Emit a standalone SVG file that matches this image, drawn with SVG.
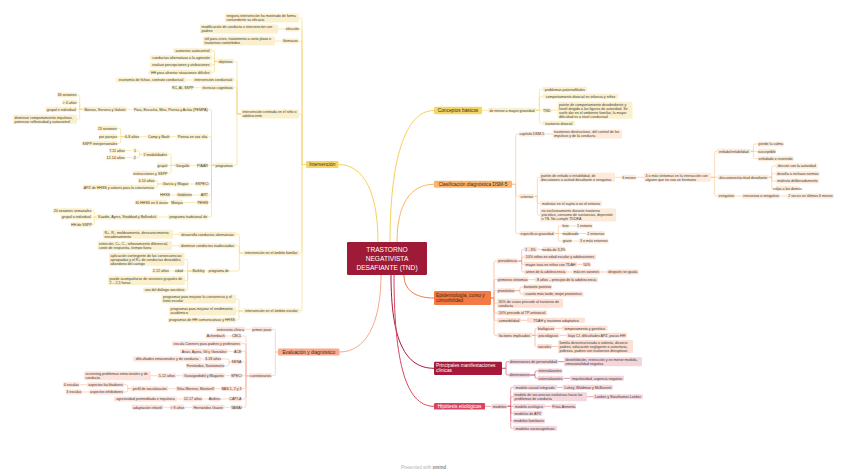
<svg xmlns="http://www.w3.org/2000/svg" width="848" height="476" viewBox="0 0 848 476">
<style>
text{font-family:"Liberation Sans",Arial,sans-serif;font-size:3.6px;fill:#3c3a36}
.s text{text-anchor:middle}
rect{rx:1.2px}
.ny rect{fill:#fbf0cd}
.no rect{fill:#fdead9}
.ne rect{fill:#fde0d3}
.nv rect{fill:#fde3da}
.np rect{fill:#f3d5dc}
.nh rect{fill:#f5d7de}
.mn text{font-size:4.8px;fill:#3a2a10}
.mw text{font-size:4.8px;fill:#ffffff}
path{fill:none;stroke-width:0.6}
.ly{stroke:#f6d67a}.lo{stroke:#f9c28a}.le{stroke:#f7a384}.lv{stroke:#f9baa6}.lp{stroke:#bb4862}.lh{stroke:#e26a80}
.mc path{stroke-width:1}
</style>
<rect width="848" height="476" fill="#ffffff"/>
<g id="connectors">
<g class="mc">
<path d="M378 242C378 195 365 164.5 338.5 164.5" stroke="#f4d25e"/>
<path d="M390 242C390 160 405 110.5 434 110.5" stroke="#f4d25e"/>
<path d="M397 242C397 205 410 184.3 434 184.3" stroke="#f8b56a"/>
<path d="M404 275C404 290 415 298 434 298" stroke="#f47a45"/>
<path d="M391 275C391 340 405 368.3 434 368.3" stroke="#a6193a"/>
<path d="M394 275C394 375 410 406.3 434 406.3" stroke="#d94560"/>
<path d="M381 275C381 325 365 352 339.5 352" stroke="#f8a88c"/>
</g>
<g class="ly">
<path d="M306 164.5H302V19.5Q302 18 300.5 18H299"/>
<path d="M306 164.5H302V30.5Q302 29 300.5 29H299"/>
<path d="M306 164.5H302V42.5Q302 41 300.5 41H299"/>
<path d="M306 164.5H302V115.5Q302 114 300.5 114H299"/>
<path d="M306 164.5H302V251.5Q302 253 300.5 253H299.5"/>
<path d="M306 164.5H302V309.5Q302 311 300.5 311H300"/>
<path d="M285.5 29H278M282 41H275"/>
<path d="M241 114H237V62.8Q237 61.3 235.5 61.3H233.5"/>
<path d="M241 114H237V81.5Q237 80 235.5 80H234"/>
<path d="M241 114H237V89.2Q237 87.7 235.5 87.7H234"/>
<path d="M241 114H237V163.8Q237 165.3 235.5 165.3H233"/>
<path d="M217.5 61.3H214.5V52.2Q214.5 50.7 213 50.7H212"/>
<path d="M217.5 61.3H214.5V59.3Q214.5 57.8 213 57.8H212"/>
<path d="M217.5 61.3H214.5V63.5Q214.5 65 213 65H212"/>
<path d="M217.5 61.3H214.5V70.8Q214.5 72.3 213 72.3H212"/>
<path d="M192.5 80H186M201 87.7H193"/>
<path d="M215 165.3H211.5V110.8Q211.5 109.3 210 109.3H208.5"/>
<path d="M215 165.3H211.5V138.2Q211.5 136.7 210 136.7H208.5"/>
<path d="M215 165.3H208.5"/>
<path d="M215 165.3H211.5V182.5Q211.5 184 210 184H208.5"/>
<path d="M215 165.3H211.5V193.5Q211.5 195 210 195H208.5"/>
<path d="M215 165.3H211.5V200.8Q211.5 202.3 210 202.3H208.5"/>
<path d="M215 165.3H211.5V215.5Q211.5 217 210 217H208.5"/>
<path d="M133 109.3H127"/>
<path d="M83 109.3H79.7V96.5Q79.7 95 78.2 95H77"/>
<path d="M83 109.3H79.7V103.8Q79.7 102.3 78.2 102.3H77"/>
<path d="M83 109.3H77"/>
<path d="M83 109.3H79.7V117.8Q79.7 119.3 78.2 119.3H77"/>
<path d="M176.5 136.7H170M147.5 136.7H139"/>
<path d="M125 136.7H120.7V129.8Q120.7 128.3 119.2 128.3H117"/>
<path d="M125 136.7H117"/>
<path d="M125 136.7H120.7V141.8Q120.7 143.3 119.2 143.3H117"/>
<path d="M196.5 165.3H190"/>
<path d="M175 165.3H171V155.8Q171 154.3 169.5 154.3H167.5"/>
<path d="M175 165.3H167.5"/>
<path d="M175 165.3H171V171.8Q171 173.3 169.5 173.3H167.5"/>
<path d="M143 154.3H139.5V152.2Q139.5 150.7 138 150.7H136.5"/>
<path d="M143 154.3H139.5V156.2Q139.5 157.7 138 157.7H136.5"/>
<path d="M133.5 150.7H125M133 157.7H125"/>
<path d="M195.5 184H189"/>
<path d="M162 184H157.5V182.2Q157.5 180.7 156 180.7H155"/>
<path d="M162 184H157.5V185.8Q157.5 187.3 156 187.3H155"/>
<path d="M200 195H192M177 195H170"/>
<path d="M197 202.3H183M171 202.3H167"/>
<path d="M168 217H158.5"/>
<path d="M96 217H94.3V212.2Q94.3 210.7 92.8 210.7H92"/>
<path d="M96 217H92"/>
<path d="M96 217H94.3V223.2Q94.3 224.7 92.8 224.7H92"/>
<path d="M243 253H239.3V235.8Q239.3 234.3 237.8 234.3H236"/>
<path d="M243 253H239.3V247.2Q239.3 245.7 237.8 245.7H236"/>
<path d="M243 253H239.3V269.5Q239.3 271 237.8 271H228.5"/>
<path d="M179 234.3H173M179 245.7H172M209 271H205"/>
<path d="M192 271H187.7V260.8Q187.7 259.3 186.2 259.3H184.5"/>
<path d="M192 271H183"/>
<path d="M192 271H187.7V279Q187.7 280.5 186.2 280.5H185"/>
<path d="M192 271H187.7V288.5Q187.7 290 186.2 290H186"/>
<path d="M175 271H169.5"/>
<path d="M243 311H239V300.5Q239 299 237.5 299H236"/>
<path d="M243 311H236"/>
<path d="M243 311H239V318.5Q239 320 237.5 320H236"/>
<path d="M482 110.5H488"/>
<path d="M536 110.3H539.3V90.8Q539.3 89.3 540.8 89.3H542.5"/>
<path d="M536 110.3H539.3V97.8Q539.3 96.3 540.8 96.3H542.5"/>
<path d="M536 110.3H542.5M551 110.3H557.5"/>
<path d="M536 110.3H539.3V121.8Q539.3 123.3 540.8 123.3H542.5"/>
</g>
<g class="lo">
<path d="M512 184.3H515.7V135.5Q515.7 134 517.2 134H519"/>
<path d="M512 184.3H515.7V194.8Q515.7 196.3 517.2 196.3H519"/>
<path d="M512 184.3H515.7V232Q515.7 233.5 517.2 233.5H519"/>
<path d="M544.5 134H552.5"/>
<path d="M534.5 196.3H537.3V178.8Q537.3 177.3 538.8 177.3H539.5"/>
<path d="M534.5 196.3H537.3V201.8Q537.3 203.3 538.8 203.3H540"/>
<path d="M534.5 196.3H537.3V213.5Q537.3 215 538.8 215H540"/>
<path d="M615 177.3H622M636 177.3H644"/>
<path d="M711 177.3H714.7V152.8Q714.7 151.3 716.2 151.3H716.5"/>
<path d="M711 177.3H717.5"/>
<path d="M711 177.3H714.7V194.5Q714.7 196 716.2 196H717.5"/>
<path d="M751 151.3H753.3V145.5Q753.3 144 754.8 144H757.5"/>
<path d="M751 151.3H757.5"/>
<path d="M751 151.3H753.3V157.2Q753.3 158.7 754.8 158.7H757.5"/>
<path d="M769 177.3H771.7V167.5Q771.7 166 773.2 166H776"/>
<path d="M769 177.3H771.7V175.2Q771.7 173.7 773.2 173.7H776"/>
<path d="M769 177.3H771.7V179.5Q771.7 181 773.2 181H776"/>
<path d="M769 177.3H771.7V186.8Q771.7 188.3 773.2 188.3H776"/>
<path d="M735 196H742M780 196H787"/>
<path d="M555 233.5H558.3V227.5Q558.3 226 559.8 226H562.5"/>
<path d="M555 233.5H562.5"/>
<path d="M555 233.5H558.3V239.5Q558.3 241 559.8 241H562.5"/>
<path d="M568 226H576.5M578.5 233.5H586.5M572 241H579"/>
</g>
<g class="le">
<path d="M491 298H494V262.5Q494 261 495.5 261H497"/>
<path d="M491 298H494V281.2Q494 279.7 495.5 279.7H497"/>
<path d="M491 298H494V292.2Q494 290.7 495.5 290.7H497"/>
<path d="M491 298H494V301.8Q494 303.3 495.5 303.3H497"/>
<path d="M491 298H494V311.5Q494 313 495.5 313H497"/>
<path d="M491 298H494V318.8Q494 320.3 495.5 320.3H497"/>
<path d="M491 298H494V333.8Q494 335.3 495.5 335.3H497"/>
<path d="M518 261H521.7V250.8Q521.7 249.3 523.2 249.3H524"/>
<path d="M518 261H521.7V258.5Q521.7 257 523.2 257H524"/>
<path d="M518 261H521.7V262.8Q521.7 264.3 523.2 264.3H524"/>
<path d="M518 261H521.7V270.5Q521.7 272 523.2 272H524"/>
<path d="M537 249.3H542.5M577 264.3H583M567 272H572.5M600 272H607M528.5 279.7H535"/>
<path d="M515 290.7H520V288.5Q520 287 521.5 287H523"/>
<path d="M515 290.7H520V292.5Q520 294 521.5 294H523"/>
<path d="M521 320.3H527"/>
<path d="M532 335.3H535V329.8Q535 328.3 536.5 328.3H537"/>
<path d="M532 335.3H537"/>
<path d="M532 335.3H535V345Q535 346.5 536.5 346.5H537"/>
<path d="M555 328.3H562M559.5 335.3H566.5M552 346.5H558"/>
</g>
<g class="lv">
<path d="M278 352H275.3V330.8Q275.3 329.3 273.8 329.3H272"/>
<path d="M278 352H275.3V374.2Q275.3 375.7 273.8 375.7H272"/>
<path d="M251.5 329.3H245"/>
<path d="M249 375.7H246V337.5Q246 336 244.5 336H241.5"/>
<path d="M249 375.7H246V345.2Q246 343.7 244.5 343.7H241.5"/>
<path d="M249 375.7H246V352.8Q246 351.3 244.5 351.3H241.5"/>
<path d="M249 375.7H246V363.5Q246 362 244.5 362H241.5"/>
<path d="M249 375.7H241.5"/>
<path d="M249 375.7H246V387.2Q246 388.7 244.5 388.7H241.5"/>
<path d="M249 375.7H246V397.5Q246 399 244.5 399H241.5"/>
<path d="M249 375.7H246V405.8Q246 407.3 244.5 407.3H241.5"/>
<path d="M232 336H226M234 351.3H228"/>
<path d="M231.5 362H229V360.5Q229 359 227.5 359H221"/>
<path d="M231.5 362H229V364.2Q229 365.7 227.5 365.7H224"/>
<path d="M205 359H201"/>
<path d="M231 375.7H225M182.5 375.7H176M157.5 375.7H151"/>
<path d="M221.5 388.7H215M175.5 388.7H168.5"/>
<path d="M131 388.7H127.7V386.2Q127.7 384.7 126.2 384.7H124"/>
<path d="M131 388.7H127.7V390.5Q127.7 392 126.2 392H124"/>
<path d="M87 384.7H79.5M89 392H82"/>
<path d="M229 399H220M209 399H202.5M183 399H177"/>
<path d="M231 407.3H224.5M192 407.3H184.5M170 407.3H163.5"/>
</g>
<g class="lp">
<path d="M502 368.3H506V363.2Q506 361.7 507.5 361.7H509"/>
<path d="M502 368.3H506V373.5Q506 375 507.5 375H509"/>
<path d="M558 361.7H564"/>
<path d="M530 375H535V372.5Q535 371 536.5 371H537.5"/>
<path d="M530 375H535V376.8Q535 378.3 536.5 378.3H537.5"/>
<path d="M563.5 378.3H570"/>
</g>
<g class="lh">
<path d="M485 406.3H491.5"/>
<path d="M507.5 406.3H510.7V388.8Q510.7 387.3 512.2 387.3H513"/>
<path d="M507.5 406.3H510.7V398.2Q510.7 396.7 512.2 396.7H513"/>
<path d="M507.5 406.3H513"/>
<path d="M507.5 406.3H510.7V411.8Q510.7 413.3 512.2 413.3H513"/>
<path d="M507.5 406.3H510.7V419.5Q510.7 421 512.2 421H513"/>
<path d="M507.5 406.3H510.7V426.8Q510.7 428.3 512.2 428.3H513"/>
<path d="M557 387.3H562.5M587 396.7H593M545 406.3H551.5"/>
</g>
</g>

<g id="central"><rect x="347" y="242" width="80" height="33" rx="2" fill="#9e1a36"/>
<text x="387" y="251.5" text-anchor="middle" style="font-size:6.6px;fill:#fff">TRASTORNO</text>
<text x="387" y="260.5" text-anchor="middle" style="font-size:6.6px;fill:#fff">NEGATIVISTA</text>
<text x="387" y="269.5" text-anchor="middle" style="font-size:6.6px;fill:#fff">DESAFIANTE (TND)</text></g>

<g id="m-intervencion" class="mn s"><rect x="306" y="161" width="32.5" height="7" fill="#f5d565"/><text x="322.3" y="166.2">Intervención</text></g>
<g id="m-conceptos" class="mn s"><rect x="434" y="106.8" width="48" height="7.4" fill="#f5d565"/><text x="458" y="112.2">Conceptos básicos</text></g>
<g id="m-clasificacion" class="mn s"><rect x="434" y="180.8" width="78" height="7" fill="#f9b56d"/><text x="473" y="186">Clasificación diagnóstica DSM-5</text></g>
<g id="m-epidemiologia" class="mn"><rect x="434" y="291" width="57" height="14" fill="#f47a45"/><text x="436" y="297.4">Epidemiología, curso y<tspan x="436" y="302.4">comorbilidad</tspan></text></g>
<g id="m-evaluacion" class="mn s"><rect x="278" y="348.5" width="61.5" height="7" fill="#f9a98d"/><text x="308.8" y="353.7">Evaluación y diagnóstico</text></g>
<g id="m-principales" class="mw"><rect x="434" y="361.7" width="68" height="13.3" fill="#a6193a"/><text x="436" y="367">Principales manifestaciones<tspan x="436" y="372.4">clínicas</tspan></text></g>
<g id="m-hipotesis" class="mw s"><rect x="434" y="403" width="51" height="6.6" fill="#d94560"/><text x="459.5" y="408">Hipótesis etiológicas</text></g>

<g id="n-ninguna" class="ny"><rect x="225" y="13.5" width="74" height="9"/><text x="226.5" y="17.3">ninguna intervención ha mostrado de forma<tspan x="226.5" y="21.3">contundente su eficacia</tspan></text></g>
<g id="n-eleccion" class="ny s"><rect x="285.5" y="26.5" width="13.5" height="5"/><text x="292.3" y="30.3">elección</text></g>
<g id="n-modif" class="ny"><rect x="200" y="24.5" width="78" height="9"/><text x="201.5" y="28.3">modificación de conducta e intervención con<tspan x="201.5" y="32.3">padres</tspan></text></g>
<g id="n-farmacos" class="ny s"><rect x="282" y="38.5" width="17" height="5"/><text x="290.5" y="42.3">fármacos</text></g>
<g id="n-util" class="ny"><rect x="203" y="36.5" width="72" height="9"/><text x="204.5" y="40.3">útil para crisis, tratamiento a corto plazo o<tspan x="204.5" y="44.3">trastornos comórbidos</tspan></text></g>
<g id="n-centrada" class="ny"><rect x="241" y="109.5" width="58" height="9"/><text x="242.5" y="113.3">intervención centrada en el niño o<tspan x="242.5" y="117.3">adolescente</tspan></text></g>
<g id="n-objetivos" class="ny s"><rect x="217.5" y="58.8" width="16" height="5"/><text x="225.5" y="62.6">objetivos</text></g>
<g id="n-autocontrol" class="ny s"><rect x="173" y="48.2" width="39" height="5"/><text x="192.5" y="52">aumentar autocontrol</text></g>
<g id="n-alternativas" class="ny s"><rect x="150" y="55.3" width="62" height="5"/><text x="181" y="59.1">conductas alternativas a la agresión</text></g>
<g id="n-percepciones" class="ny s"><rect x="150" y="62.5" width="62" height="5"/><text x="181" y="66.3">evaluar percepciones y atribuciones</text></g>
<g id="n-afrontar" class="ny s"><rect x="148.5" y="69.8" width="63.5" height="5"/><text x="180.3" y="73.6">HH para afrontar situaciones difíciles</text></g>
<g id="n-intconductual" class="ny s"><rect x="192.5" y="77.5" width="41.5" height="5"/><text x="213.3" y="81.3">intervención conductual</text></g>
<g id="n-economia" class="ny s"><rect x="116" y="77.5" width="70" height="5"/><text x="151" y="81.3">economía de fichas, contrato conductual</text></g>
<g id="n-tecnicas" class="ny s"><rect x="201" y="85.2" width="33" height="5"/><text x="217.5" y="89">técnicas cognitivas</text></g>
<g id="n-rc" class="ny s"><rect x="172.5" y="85.2" width="20.5" height="5"/><text x="182.8" y="89">RC, AI, SSPP</text></g>
<g id="n-programas" class="ny s"><rect x="215" y="162.8" width="18" height="5"/><text x="224" y="166.6">programas</text></g>
<g id="n-pempa" class="ny s"><rect x="133" y="106.8" width="75.5" height="5"/><text x="170.8" y="110.6">Para, Escucha, Mira, Piensa y Actúa (PEMPA)</text></g>
<g id="n-bornas" class="ny s"><rect x="83" y="106.8" width="44" height="5"/><text x="105" y="110.6">Bornas, Servera y Galván</text></g>
<g id="n-36ses" class="ny s"><rect x="57" y="92.5" width="20" height="5"/><text x="67" y="96.3">36 sesiones</text></g>
<g id="n-4anos" class="ny s"><rect x="62" y="99.8" width="15" height="5"/><text x="69.5" y="103.6">&gt; 4 años</text></g>
<g id="n-grupalind" class="ny s"><rect x="45.5" y="106.8" width="31.5" height="5"/><text x="61.3" y="110.6">grupal e individual</text></g>
<g id="n-disminuir" class="ny"><rect x="13" y="114.8" width="64" height="9"/><text x="14.5" y="118.6">disminuir comportamiento impulsivo,<tspan x="14.5" y="122.6">potenciar reflexividad y autocontrol</tspan></text></g>
<g id="n-piensa" class="ny s"><rect x="176.5" y="134.2" width="32" height="5"/><text x="192.5" y="138">Piensa en voz alta</text></g>
<g id="n-camp" class="ny s"><rect x="147.5" y="134.2" width="22.5" height="5"/><text x="158.8" y="138">Camp y Bash</text></g>
<g id="n-68" class="ny s"><rect x="125" y="134.2" width="14" height="5"/><text x="132" y="138">6-8 años</text></g>
<g id="n-23ses" class="ny s"><rect x="97.5" y="125.8" width="19.5" height="5"/><text x="107.3" y="129.6">23 sesiones</text></g>
<g id="n-parejas" class="ny s"><rect x="99" y="134.2" width="18" height="5"/><text x="108" y="138">por parejas</text></g>
<g id="n-sspp" class="ny s"><rect x="82.5" y="140.8" width="34.5" height="5"/><text x="99.8" y="144.6">SSPP interpersonales</text></g>
<g id="n-piaar" class="ny s"><rect x="196.5" y="162.8" width="12" height="5"/><text x="202.5" y="166.6">PIAAR</text></g>
<g id="n-gargallo" class="ny s"><rect x="175" y="162.8" width="15" height="5"/><text x="182.5" y="166.6">Gargallo</text></g>
<g id="n-2mod" class="ny s"><rect x="143" y="151.8" width="24.5" height="5"/><text x="155.3" y="155.6">2 modalidades</text></g>
<g id="n-1" class="ny s"><rect x="133.5" y="148.2" width="3" height="5"/><text x="135" y="152">1</text></g>
<g id="n-711" class="ny s"><rect x="109" y="148.2" width="16" height="5"/><text x="117" y="152">7-11 años</text></g>
<g id="n-2" class="ny s"><rect x="133" y="155.2" width="3.5" height="5"/><text x="134.8" y="159">2</text></g>
<g id="n-1214" class="ny s"><rect x="106" y="155.2" width="19" height="5"/><text x="115.5" y="159">12-14 años</text></g>
<g id="n-grupal" class="ny s"><rect x="157" y="162.8" width="10.5" height="5"/><text x="162.3" y="166.6">grupal</text></g>
<g id="n-instr" class="ny s"><rect x="133" y="170.8" width="34.5" height="5"/><text x="150.3" y="174.6">instrucciones y SSPP</text></g>
<g id="n-especi" class="ny s"><rect x="195.5" y="181.5" width="13" height="5"/><text x="202" y="185.3">ESPECI</text></g>
<g id="n-garcia" class="ny s"><rect x="162" y="181.5" width="27" height="5"/><text x="175.5" y="185.3">García y Magaz</text></g>
<g id="n-410" class="ny s"><rect x="138" y="178.2" width="17" height="5"/><text x="146.5" y="182">4-10 años</text></g>
<g id="n-apz" class="ny s"><rect x="82.5" y="184.8" width="72.5" height="5"/><text x="118.8" y="188.6">APZ de HHSS y valores para la convivencia</text></g>
<g id="n-art" class="ny s"><rect x="200" y="192.5" width="8.5" height="5"/><text x="204.3" y="196.3">ART</text></g>
<g id="n-goldstein" class="ny s"><rect x="177" y="192.5" width="15" height="5"/><text x="184.5" y="196.3">Goldstein</text></g>
<g id="n-hhss" class="ny s"><rect x="160" y="192.5" width="10" height="5"/><text x="165" y="196.3">HHSS</text></g>
<g id="n-pehis" class="ny s"><rect x="197" y="199.8" width="11.5" height="5"/><text x="202.8" y="203.6">PEHIS</text></g>
<g id="n-monjas" class="ny s"><rect x="171" y="199.8" width="12" height="5"/><text x="177" y="203.6">Monjas</text></g>
<g id="n-30hhss" class="ny s"><rect x="136" y="199.8" width="31" height="5"/><text x="151.5" y="203.6">30 HHSS en 6 áreas</text></g>
<g id="n-progtrad" class="ny s"><rect x="168" y="214.5" width="40.5" height="5"/><text x="188.3" y="218.3">programa tradicional de</text></g>
<g id="n-kazdin" class="ny s"><rect x="96" y="214.5" width="62.5" height="5"/><text x="127.3" y="218.3">Kazdin, Ayers, Stoddard y Bollerdick</text></g>
<g id="n-20ses" class="ny s"><rect x="53" y="208.2" width="39" height="5"/><text x="72.5" y="212">20 sesiones semanales</text></g>
<g id="n-grupaloind" class="ny s"><rect x="60.5" y="214.5" width="31.5" height="5"/><text x="76.3" y="218.3">grupal o individual</text></g>
<g id="n-hhdesspp" class="ny s"><rect x="71" y="222.2" width="21" height="5"/><text x="81.5" y="226">HH de SSPP</text></g>
<g id="n-familiar" class="ny s"><rect x="243" y="250.5" width="56.5" height="5"/><text x="271.3" y="254.3">intervención en el ámbito familiar</text></g>
<g id="n-desarrollo" class="ny s"><rect x="179" y="231.8" width="57" height="5"/><text x="207.5" y="235.6">desarrollo conductas alternativas</text></g>
<g id="n-rmas" class="ny"><rect x="103" y="229.8" width="70" height="9"/><text x="104.5" y="233.6">R+, R-, moldeamiento, desvanecimiento,<tspan x="104.5" y="237.6">encadenamiento</tspan></text></g>
<g id="n-disminuirci" class="ny s"><rect x="179" y="243.2" width="57" height="5"/><text x="207.5" y="247">disminuir conductas inadecuadas</text></g>
<g id="n-extincion" class="ny"><rect x="97.5" y="241.2" width="74.5" height="9"/><text x="99" y="245">extinción, C+, C-, reforzamiento diferencial,<tspan x="99" y="249">coste de respuesta, tiempo fuera</tspan></text></g>
<g id="n-programade" class="ny s"><rect x="209" y="268.5" width="19.5" height="5"/><text x="218.8" y="272.3">programa de</text></g>
<g id="n-barkley" class="ny s"><rect x="192" y="268.5" width="13" height="5"/><text x="198.5" y="272.3">Barkley</text></g>
<g id="n-aplicacion" class="ny"><rect x="109" y="252.8" width="75.5" height="13"/><text x="110.5" y="256.6">aplicación contingente de las consecuencias<tspan x="110.5" y="260.6">apropiadas y el R+ de conductas deseables,</tspan><tspan x="110.5" y="264.6">abandono del castigo</tspan></text></g>
<g id="n-edad" class="ny s"><rect x="175" y="268.5" width="8" height="5"/><text x="179" y="272.3">edad</text></g>
<g id="n-212" class="ny s"><rect x="152" y="268.5" width="17.5" height="5"/><text x="160.8" y="272.3">2-12 años</text></g>
<g id="n-puede" class="ny"><rect x="108" y="276" width="77" height="9"/><text x="109.5" y="279.8">puede acompañarse de sesiones grupales de<tspan x="109.5" y="283.8">2 – 2,5 horas</tspan></text></g>
<g id="n-socratico" class="ny s"><rect x="143" y="287.5" width="43" height="5"/><text x="164.5" y="291.3">uso del diálogo socrático</text></g>
<g id="n-escolar" class="ny s"><rect x="243" y="308.5" width="57" height="5"/><text x="271.5" y="312.3">intervención en el ámbito escolar</text></g>
<g id="n-convivencia" class="ny"><rect x="161.5" y="294.5" width="74.5" height="9"/><text x="163" y="298.3">programas para mejorar la convivencia y el<tspan x="163" y="302.3">éxito escolar</tspan></text></g>
<g id="n-rendimiento" class="ny"><rect x="169" y="306.5" width="67" height="9"/><text x="170.5" y="310.3">programas para mejorar el rendimiento<tspan x="170.5" y="314.3">académico</tspan></text></g>
<g id="n-hhcom" class="ny s"><rect x="168" y="317.5" width="68" height="5"/><text x="202" y="321.3">programas de HH comunicativas y HHSS</text></g>

<g id="e-primer" class="nv s"><rect x="251.5" y="326.8" width="20.5" height="5"/><text x="261.8" y="330.6">primer paso</text></g>
<g id="e-entrevista" class="nv s"><rect x="216" y="326.8" width="29" height="5"/><text x="230.5" y="330.6">entrevista clínica</text></g>
<g id="e-cuestionarios" class="nv s"><rect x="249" y="373.2" width="23" height="5"/><text x="260.5" y="377">cuestionarios</text></g>
<g id="e-cbcl" class="nv s"><rect x="232" y="333.5" width="9.5" height="5"/><text x="236.8" y="337.3">CBCL</text></g>
<g id="e-achenbach" class="nv s"><rect x="205.5" y="333.5" width="20.5" height="5"/><text x="215.8" y="337.3">Achenbach</text></g>
<g id="e-conners" class="nv s"><rect x="172" y="341.2" width="69.5" height="5"/><text x="206.8" y="345">escala Conners para padres y profesores</text></g>
<g id="e-ace" class="nv s"><rect x="234" y="348.8" width="7.5" height="5"/><text x="237.8" y="352.6">ACE</text></g>
<g id="e-arias" class="nv s"><rect x="180" y="348.8" width="48" height="5"/><text x="204" y="352.6">Arias, Ayora, Gil y González</text></g>
<g id="e-sena" class="nv s"><rect x="231.5" y="359.5" width="10" height="5"/><text x="236.5" y="363.3">SENA</text></g>
<g id="e-318" class="nv s"><rect x="205" y="356.5" width="16" height="5"/><text x="213" y="360.3">3-18 años</text></g>
<g id="e-dificultades" class="nv s"><rect x="133" y="356.5" width="68" height="5"/><text x="167" y="360.3">dificultades emocionales y de conducta</text></g>
<g id="e-fernandez" class="nv s"><rect x="186.5" y="363.2" width="37.5" height="5"/><text x="205.3" y="367">Fernández, Santamaría</text></g>
<g id="e-speci" class="nv s"><rect x="231" y="373.2" width="10.5" height="5"/><text x="236.3" y="377">SPECI</text></g>
<g id="e-garaigordobil" class="nv s"><rect x="182.5" y="373.2" width="42.5" height="5"/><text x="203.8" y="377">Garaigordobil y Maganto</text></g>
<g id="e-512" class="nv s"><rect x="157.5" y="373.2" width="18.5" height="5"/><text x="166.8" y="377">5-12 años</text></g>
<g id="e-screening" class="nv"><rect x="84" y="371.2" width="67" height="9"/><text x="85.5" y="375">screening problemas emocionales y de<tspan x="85.5" y="379">conducta</tspan></text></g>
<g id="e-bas" class="nv s"><rect x="221.5" y="386.2" width="20" height="5"/><text x="231.5" y="390">BAS-1, 2 y 3</text></g>
<g id="e-silva" class="nv s"><rect x="175.5" y="386.2" width="39.5" height="5"/><text x="195.3" y="390">Silva Moreno, Martorell</text></g>
<g id="e-perfil" class="nv s"><rect x="131" y="386.2" width="37.5" height="5"/><text x="149.8" y="390">perfil de socialización</text></g>
<g id="e-facilitadores" class="nv s"><rect x="87" y="382.2" width="37" height="5"/><text x="105.5" y="386">aspectos facilitadores</text></g>
<g id="e-4esc" class="nv s"><rect x="63" y="382.2" width="16.5" height="5"/><text x="71.3" y="386">4 escalas</text></g>
<g id="e-inhibidores" class="nv s"><rect x="89" y="389.5" width="35" height="5"/><text x="106.5" y="393.3">aspectos inhibidores</text></g>
<g id="e-3esc" class="nv s"><rect x="65.5" y="389.5" width="16.5" height="5"/><text x="73.8" y="393.3">3 escalas</text></g>
<g id="e-capi" class="nv s"><rect x="229" y="396.5" width="12.5" height="5"/><text x="235.3" y="400.3">CAPI-A</text></g>
<g id="e-andreu" class="nv s"><rect x="209" y="396.5" width="11" height="5"/><text x="214.5" y="400.3">Andreu</text></g>
<g id="e-1217" class="nv s"><rect x="183" y="396.5" width="19.5" height="5"/><text x="192.8" y="400.3">12-17 años</text></g>
<g id="e-agresividad" class="nv s"><rect x="114" y="396.5" width="63" height="5"/><text x="145.5" y="400.3">agresividad premeditada e impulsiva</text></g>
<g id="e-tamai" class="nv s"><rect x="231" y="404.8" width="10.5" height="5"/><text x="236.3" y="408.6">TAMAI</text></g>
<g id="e-hernandez" class="nv s"><rect x="192" y="404.8" width="32.5" height="5"/><text x="208.3" y="408.6">Hernández-Guanir</text></g>
<g id="e-8anos" class="nv s"><rect x="170" y="404.8" width="14.5" height="5"/><text x="177.3" y="408.6">&gt; 8 años</text></g>
<g id="e-adaptacion" class="nv s"><rect x="131.5" y="404.8" width="32" height="5"/><text x="147.5" y="408.6">adaptación infantil</text></g>

<g id="c-menor" class="ny s"><rect x="488" y="107.8" width="48" height="5"/><text x="512" y="111.6">de menor a mayor gravedad</text></g>
<g id="c-paterno" class="ny s"><rect x="542.5" y="86.8" width="44.5" height="5"/><text x="564.8" y="90.6">problemas paternofiliales</text></g>
<g id="c-disocial" class="ny s"><rect x="542.5" y="93.8" width="76" height="5"/><text x="580.5" y="97.6">comportamiento disocial en infancia y niñez</text></g>
<g id="c-tnd" class="ny s"><rect x="542.5" y="107.8" width="8.5" height="5"/><text x="546.8" y="111.6">TND</text></g>
<g id="c-patron" class="ny"><rect x="557.5" y="101.8" width="75" height="17"/><text x="559" y="105.6">patrón de comportamiento desobediente y<tspan x="559" y="109.6">hostil dirigido a las figuras de autoridad. Se</tspan><tspan x="559" y="113.6">suele dar en el ambiente familiar, la mayor</tspan><tspan x="559" y="117.6">dificultad es a nivel conductual</tspan></text></g>
<g id="c-trastdisocial" class="ny s"><rect x="542.5" y="120.8" width="32.5" height="5"/><text x="558.8" y="124.6">trastorno disocial</text></g>

<g id="d-capitulo" class="no s"><rect x="519" y="131.5" width="25.5" height="5"/><text x="531.8" y="135.3">capítulo DSM-5</text></g>
<g id="d-destructivos" class="no"><rect x="552.5" y="129.5" width="69.5" height="9"/><text x="554" y="133.3">trastornos destructivos, del control de los<tspan x="554" y="137.3">impulsos y de la conducta</tspan></text></g>
<g id="d-criterios" class="no s"><rect x="519" y="193.8" width="15.5" height="5"/><text x="526.8" y="197.6">criterios</text></g>
<g id="d-patron" class="no"><rect x="539.5" y="172.8" width="75.5" height="9"/><text x="541" y="176.6">patrón de enfado o irritabilidad, de<tspan x="541" y="180.6">discusiones o actitud desafiante o vengativa</tspan></text></g>
<g id="d-6meses" class="no s"><rect x="622" y="174.8" width="14" height="5"/><text x="629" y="178.6">6 meses</text></g>
<g id="d-4omas" class="no"><rect x="644" y="172.8" width="67" height="9"/><text x="645.5" y="176.6">4 o más síntomas en la interacción con<tspan x="645.5" y="180.6">alguien que no sea un hermano</tspan></text></g>
<g id="d-enfado" class="no s"><rect x="716.5" y="148.8" width="34.5" height="5"/><text x="733.8" y="152.6">enfado/irritabilidad</text></g>
<g id="d-pierde" class="no s"><rect x="757.5" y="141.5" width="26.5" height="5"/><text x="770.8" y="145.3">pierde la calma</text></g>
<g id="d-susceptible" class="no s"><rect x="757.5" y="148.8" width="18.5" height="5"/><text x="766.8" y="152.6">susceptible</text></g>
<g id="d-enfadado" class="no s"><rect x="757.5" y="156.2" width="36" height="5"/><text x="775.5" y="160">enfadado o resentido</text></g>
<g id="d-discusiones" class="no s"><rect x="717.5" y="174.8" width="51.5" height="5"/><text x="743.3" y="178.6">discusiones/actitud desafiante</text></g>
<g id="d-discute" class="no s"><rect x="776" y="163.5" width="41.5" height="5"/><text x="796.8" y="167.3">discute con la autoridad</text></g>
<g id="d-desafia" class="no s"><rect x="776" y="171.2" width="43.5" height="5"/><text x="797.8" y="175">desafía o rechaza normas</text></g>
<g id="d-molesta" class="no s"><rect x="776" y="178.5" width="43" height="5"/><text x="797.5" y="182.3">molesta deliberadamente</text></g>
<g id="d-culpa" class="no s"><rect x="776" y="185.8" width="22.5" height="5"/><text x="787.3" y="189.6">culpa a los demás</text></g>
<g id="d-vengativo" class="no s"><rect x="717.5" y="193.5" width="17.5" height="5"/><text x="726.3" y="197.3">vengativo</text></g>
<g id="d-rencoroso" class="no s"><rect x="742" y="193.5" width="38" height="5"/><text x="761" y="197.3">rencoroso o vengativo</text></g>
<g id="d-2veces" class="no s"><rect x="787" y="193.5" width="47" height="5"/><text x="810.5" y="197.3">2 veces en últimos 6 meses</text></g>
<g id="d-malestar" class="no s"><rect x="540" y="200.8" width="62" height="5"/><text x="571" y="204.6">malestar en el sujeto o en el entorno</text></g>
<g id="d-noexcl" class="no"><rect x="540" y="208.5" width="76" height="13"/><text x="541.5" y="212.3">no exclusivamente durante trastorno<tspan x="541.5" y="216.3">psicótico, consumo de sustancias, depresión</tspan><tspan x="541.5" y="220.3">o TB. No cumple TDDEA</tspan></text></g>
<g id="d-especificar" class="no s"><rect x="519" y="231" width="36" height="5"/><text x="537" y="234.8">especificar gravedad</text></g>
<g id="d-leve" class="no s"><rect x="562.5" y="223.5" width="6" height="5"/><text x="565.5" y="227.3">leve</text></g>
<g id="d-1ent" class="no s"><rect x="576.5" y="223.5" width="16" height="5"/><text x="584.5" y="227.3">1 entorno</text></g>
<g id="d-moderado" class="no s"><rect x="562.5" y="231" width="16" height="5"/><text x="570.5" y="234.8">moderado</text></g>
<g id="d-2ent" class="no s"><rect x="586.5" y="231" width="18.5" height="5"/><text x="595.8" y="234.8">2 entornos</text></g>
<g id="d-grave" class="no s"><rect x="562.5" y="238.5" width="9.5" height="5"/><text x="567.3" y="242.3">grave</text></g>
<g id="d-3ent" class="no s"><rect x="579" y="238.5" width="29.5" height="5"/><text x="593.8" y="242.3">3 o más entornos</text></g>

<g id="p-prevalencia" class="ne s"><rect x="497" y="258.5" width="21" height="5"/><text x="507.5" y="262.3">prevalencia</text></g>
<g id="p-13" class="ne s"><rect x="524" y="246.8" width="13" height="5"/><text x="530.5" y="250.6">1 - 3%</text></g>
<g id="p-media" class="ne s"><rect x="542.5" y="246.8" width="22.5" height="5"/><text x="553.8" y="250.6">media de 3,3%</text></g>
<g id="p-10ninos" class="ne s"><rect x="524" y="254.5" width="72" height="5"/><text x="560" y="258.3">10% niños en edad escolar y adolescentes</text></g>
<g id="p-mayor" class="ne s"><rect x="524" y="261.8" width="53" height="5"/><text x="550.5" y="265.6">mayor tasa en niños con TDAH</text></g>
<g id="p-50" class="ne s"><rect x="583" y="261.8" width="7.5" height="5"/><text x="586.8" y="265.6">50%</text></g>
<g id="p-antes" class="ne s"><rect x="524" y="269.5" width="43" height="5"/><text x="545.5" y="273.3">antes de la adolescencia</text></g>
<g id="p-varones" class="ne s"><rect x="572.5" y="269.5" width="27.5" height="5"/><text x="586.3" y="273.3">más en varones</text></g>
<g id="p-iguala" class="ne s"><rect x="607" y="269.5" width="31.5" height="5"/><text x="622.8" y="273.3">después se iguala</text></g>
<g id="p-primeros" class="ne s"><rect x="497" y="277.2" width="31.5" height="5"/><text x="512.8" y="281">primeros síntomas</text></g>
<g id="p-8anos" class="ne s"><rect x="535" y="277.2" width="63" height="5"/><text x="566.5" y="281">8 años – principio de la adolescencia</text></g>
<g id="p-pronostico" class="ne s"><rect x="497" y="288.2" width="18" height="5"/><text x="506" y="292">pronóstico</text></g>
<g id="p-bastante" class="ne s"><rect x="523" y="284.5" width="29" height="5"/><text x="537.5" y="288.3">bastante positivo</text></g>
<g id="p-cuanto" class="ne s"><rect x="523" y="291.5" width="60.5" height="5"/><text x="553.3" y="295.3">cuanto más tarde, mejor pronóstico</text></g>
<g id="p-30" class="ne"><rect x="497" y="298.8" width="66" height="9"/><text x="498.5" y="302.6">30% de casos precede al trastorno de<tspan x="498.5" y="306.6">conducta</tspan></text></g>
<g id="p-10tp" class="ne s"><rect x="497" y="310.5" width="50" height="5"/><text x="522" y="314.3">10% precede al TP antisocial</text></g>
<g id="p-comorbilidad" class="ne s"><rect x="497" y="317.8" width="24" height="5"/><text x="509" y="321.6">comorbilidad</text></g>
<g id="p-tdah" class="ne s"><rect x="527" y="317.8" width="58" height="5"/><text x="556" y="321.6">TDAH y trastorno adaptativo</text></g>
<g id="p-factores" class="ne s"><rect x="497" y="332.8" width="35" height="5"/><text x="514.5" y="336.6">factores implicados</text></g>
<g id="p-biologicos" class="ne s"><rect x="537" y="325.8" width="18" height="5"/><text x="546" y="329.6">biológicos</text></g>
<g id="p-temperamento" class="ne s"><rect x="562" y="325.8" width="45.5" height="5"/><text x="584.8" y="329.6">temperamento y genética</text></g>
<g id="p-psicologicos" class="ne s"><rect x="537" y="332.8" width="22.5" height="5"/><text x="548.3" y="336.6">psicológicos</text></g>
<g id="p-bajoci" class="ne s"><rect x="566.5" y="332.8" width="60.5" height="5"/><text x="596.8" y="336.6">bajo CI, dificultades APZ, pocas HH</text></g>
<g id="p-sociales" class="ne s"><rect x="537" y="344" width="15" height="5"/><text x="544.5" y="347.8">sociales</text></g>
<g id="p-familia" class="ne"><rect x="558" y="340" width="75" height="13"/><text x="559.5" y="343.8">familia desestructurada o violenta, divorcio<tspan x="559.5" y="347.8">padres, educación negligente o autoritaria,</tspan><tspan x="559.5" y="351.8">pobreza, padres con trastornos disruptivos</tspan></text></g>

<g id="q-dimpers" class="np s"><rect x="509" y="359.2" width="49" height="5"/><text x="533.5" y="363">dimensiones de personalidad</text></g>
<g id="q-desinhibicion" class="np"><rect x="564" y="357.2" width="78" height="9"/><text x="565.5" y="361">desinhibición, restricción y en menor medida,<tspan x="565.5" y="365">emocionalidad negativa</tspan></text></g>
<g id="q-dimensiones" class="np s"><rect x="509" y="372.5" width="21" height="5"/><text x="519.5" y="376.3">dimensiones</text></g>
<g id="q-intern" class="np s"><rect x="537.5" y="368.5" width="25" height="5"/><text x="550" y="372.3">internalizantes</text></g>
<g id="q-extern" class="np s"><rect x="537.5" y="375.8" width="26" height="5"/><text x="550.5" y="379.6">externalizantes</text></g>
<g id="q-impulsividad" class="np s"><rect x="570" y="375.8" width="54" height="5"/><text x="597" y="379.6">impulsividad, urgencia negativa</text></g>

<g id="h-modelos" class="nh s"><rect x="491.5" y="403.8" width="16" height="5"/><text x="499.5" y="407.6">modelos</text></g>
<g id="h-causal" class="nh s"><rect x="513" y="384.8" width="44" height="5"/><text x="535" y="388.6">modelo causal integrado</text></g>
<g id="h-lahey" class="nh s"><rect x="562.5" y="384.8" width="50.5" height="5"/><text x="587.8" y="388.6">Lahey, Waldman y McBurnett</text></g>
<g id="h-secuencias" class="nh"><rect x="513" y="392.2" width="74" height="9"/><text x="514.5" y="396">modelo de secuencias evolutivas hacia los<tspan x="514.5" y="400">problemas de conducta</tspan></text></g>
<g id="h-loeber" class="nh s"><rect x="593" y="394.2" width="50" height="5"/><text x="618" y="398">Loeber y Stouthamer-Loeber</text></g>
<g id="h-ecologico" class="nh s"><rect x="513" y="403.8" width="32" height="5"/><text x="529" y="407.6">modelo ecológico</text></g>
<g id="h-frias" class="nh s"><rect x="551.5" y="403.8" width="24.5" height="5"/><text x="563.8" y="407.6">Frías-Armenta</text></g>
<g id="h-apz" class="nh s"><rect x="513" y="410.8" width="29.5" height="5"/><text x="527.8" y="414.6">modelos de APZ</text></g>
<g id="h-familiares" class="nh s"><rect x="513" y="418.5" width="32" height="5"/><text x="529" y="422.3">modelos familiares</text></g>
<g id="h-socio" class="nh s"><rect x="513" y="425.8" width="44" height="5"/><text x="535" y="429.6">modelos sociocognitivos</text></g>

<text x="423.5" y="468.5" text-anchor="middle" style="font-size:4.6px;fill:#b3b3b3">Presented with <tspan style="font-weight:bold;fill:#8a8a8a">xmind</tspan></text>
</svg>
